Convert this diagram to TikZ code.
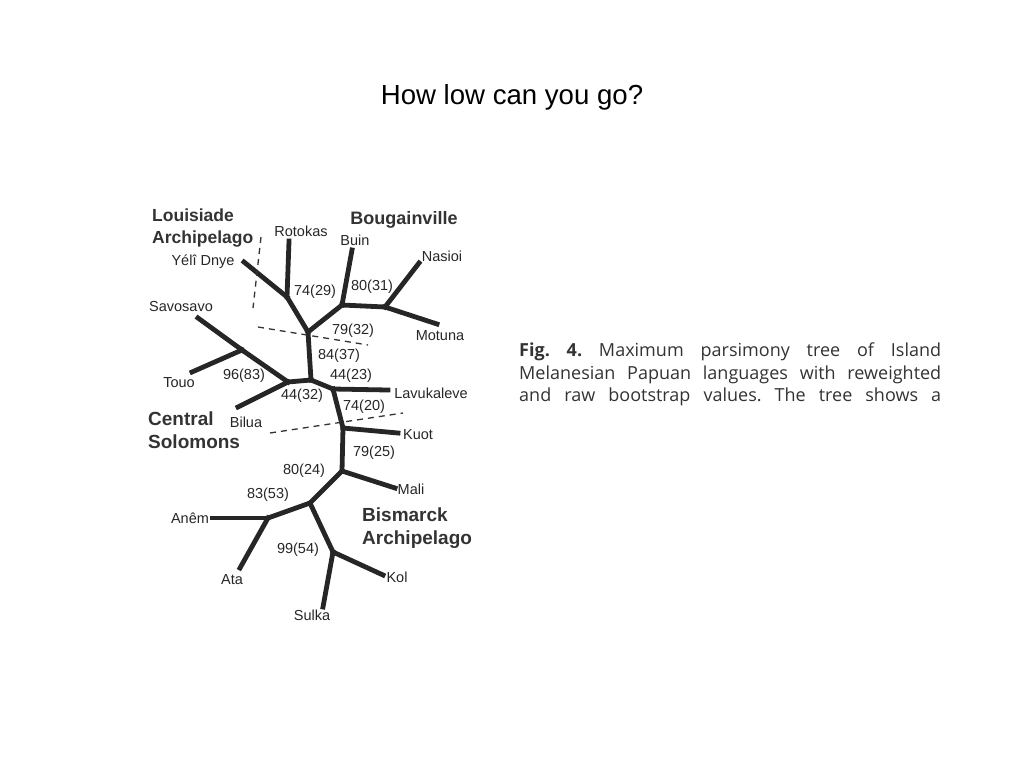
\documentclass[tikz,border=0pt]{standalone}
\usepackage{fontspec}
\setmainfont{Liberation Sans}
\newfontfamily\capfont{Open Sans}
\usepackage{tikz}
\tikzset{br/.style={line width=4.8pt,line cap=rect,line join=round,draw=black!85},
  sep/.style={line width=1.3pt,dash pattern=on 6pt off 5pt,draw=black!80},
  lab/.style={inner sep=0pt,text=black!85,font=\fontsize{14.5}{16}\selectfont},
  grp/.style={inner sep=0pt,anchor=north west,align=left,text=black!80,font=\fontsize{19}{23}\selectfont\bfseries}}

\begin{document}
\begin{tikzpicture}[x=1pt,y=-1pt]
    \useasboundingbox (0,0) rectangle (1024,768);
    \node[font=\fontsize{27.6}{32}\selectfont] (ttl) at (512,97) {How low can you go?};

    % branch points and leaf ends
    \coordinate (yeli) at (244,262);
    \coordinate (ja) at (287,297);
    \coordinate (roto) at (289,241);
    \coordinate (jb) at (308,332);
    \coordinate (jc) at (342,305);
    \coordinate (buin) at (352,250);
    \coordinate (jd) at (385,307);
    \coordinate (nasi) at (419,263);
    \coordinate (motu) at (437,324);
    \coordinate (je) at (311,380);
    \coordinate (jf) at (288,382);
    \coordinate (jg) at (242,350);
    \coordinate (savo) at (198,318);
    \coordinate (touo) at (192,372);
    \coordinate (bilu) at (238,407);
    \coordinate (jh) at (333,389);
    \coordinate (lavu) at (388,390);
    \coordinate (ji) at (343,428);
    \coordinate (kuot) at (398,433);
    \coordinate (jj) at (342,471);
    \coordinate (mali) at (395,488);
    \coordinate (jk) at (310,503);
    \coordinate (jl) at (268,518);
    \coordinate (anem) at (212,518);
    \coordinate (ata) at (240,568);
    \coordinate (jm) at (333,552);
    \coordinate (kol) at (383,575);
    \coordinate (sulk) at (323,607);

    \draw [br] (yeli) to (ja);
    \draw [br] (roto) to (ja);
    \draw [br] (ja) to (jb);
    \draw [br] (jb) to (jc);
    \draw [br] (buin) to (jc);
    \draw [br] (jc) to (jd);
    \draw [br] (jd) to (nasi);
    \draw [br] (jd) to (motu);
    \draw [br] (jb) to (je);
    \draw [br] (je) to (jf);
    \draw [br] (jf) to (jg);
    \draw [br] (jg) to (savo);
    \draw [br] (jg) to (touo);
    \draw [br] (jf) to (bilu);
    \draw [br] (je) to (jh);
    \draw [br] (jh) to (lavu);
    \draw [br] (jh) to (ji);
    \draw [br] (ji) to (kuot);
    \draw [br] (ji) to (jj);
    \draw [br] (jj) to (mali);
    \draw [br] (jj) to (jk);
    \draw [br] (jk) to (jl);
    \draw [br] (jl) to (anem);
    \draw [br] (jl) to (ata);
    \draw [br] (jk) to (jm);
    \draw [br] (jm) to (kol);
    \draw [br] (jm) to (sulk);

    % group borders
    \coordinate (s1a) at (261,237);
    \coordinate (s1b) at (253,308);
    \coordinate (s2a) at (258,327);
    \coordinate (s2b) at (368,345);
    \coordinate (s3a) at (270,433);
    \coordinate (s3b) at (403,413);
    \draw [sep] (s1a) to (s1b);
    \draw [sep] (s2a) to (s2b);
    \draw [sep] (s3a) to (s3b);

    % leaves
    \node[lab] (tRoto) at (301,231) {Rotokas};
    \node[lab] (tBuin) at (355,240) {Buin};
    \node[lab] (tYeli) at (203,262) {Yélî Dnye};
    \node[lab] (tNasi) at (442,256) {Nasioi};
    \node[lab] (tMotu) at (440,336) {Motuna};
    \node[lab] (tSavo) at (181,307) {Savosavo};
    \node[lab] (tTouo) at (179,383) {Touo};
    \node[lab] (tLavu) at (431,393) {Lavukaleve};
    \node[lab] (tBilu) at (246,422) {Bilua};
    \node[lab] (tKuot) at (418,435) {Kuot};
    \node[lab] (tMali) at (411,489) {Mali};
    \node[lab] (tAnem) at (190,518) {Anêm};
    \node[lab] (tAta) at (232,580) {Ata};
    \node[lab] (tKol) at (397,577) {Kol};
    \node[lab] (tSulk) at (312,615) {Sulka};

    % bootstrap values
    \node[lab] (b1) at (315,292) {74(29)};
    \node[lab] (b2) at (372,287) {80(31)};
    \node[lab] (b3) at (353,331) {79(32)};
    \node[lab] (b4) at (339,356) {84(37)};
    \node[lab] (b5) at (244,376) {96(83)};
    \node[lab] (b6) at (351,376) {44(23)};
    \node[lab] (b7) at (302,396) {44(32)};
    \node[lab] (b8) at (364,407) {74(20)};
    \node[lab] (b9) at (374,453) {79(25)};
    \node[lab] (b10) at (304,471) {80(24)};
    \node[lab] (b11) at (268,495) {83(53)};
    \node[lab] (b12) at (298,550) {99(54)};

    % groups
    \node[grp,font=\fontsize{17.5}{22}\selectfont\bfseries] (gLoui) at (152,209) {Louisiade\\Archipelago};
    \node[grp,anchor=center,font=\fontsize{18}{22}\selectfont\bfseries] (gBoug) at (404,220) {Bougainville};
    \node[grp] (gCent) at (148,412) {Central\\Solomons};
    \node[grp] (gBism) at (362,508) {Bismarck\\Archipelago};

    % caption
    \node[anchor=north west,text width=422pt,align=justify,inner sep=0pt,text=black!80,
      font=\capfont\fontsize{18}{22.5}\selectfont] (cap) at (519,343)
      {\frenchspacing\parfillskip=0pt \textbf{Fig. 4.} Maximum parsimony tree of Island\linebreak
       Melanesian Papuan languages with reweighted\linebreak
       and raw bootstrap values. The tree shows a\par};
\end{tikzpicture}
\end{document}
